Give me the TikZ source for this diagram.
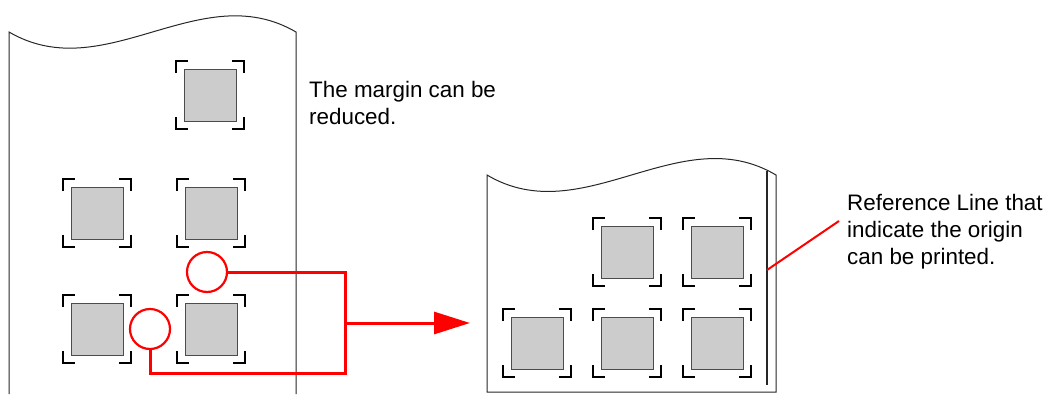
\documentclass[tikz,border=0pt]{standalone}
\usepackage{fontspec}
\setmainfont{Liberation Sans}
\usetikzlibrary{calc,arrows.meta}
\tikzset{
  sheet/.style={draw=black!85,line width=1pt},
  sq/.style={draw=black!70,fill=black!20,line width=1pt,minimum size=52pt,inner sep=0pt,outer sep=0pt},
  brk/.style={draw=black,line width=2.4pt},
  rcirc/.style={circle,draw=red,line width=2.2pt,minimum size=40pt,inner sep=0pt,outer sep=0pt},
  rline/.style={draw=red,line width=3pt},
  lead/.style={draw=red,line width=2pt},
  lbl/.style={inner sep=0pt,align=left,font=\fontsize{22.4}{27}\selectfont},
}
\newcommand\regmarks[1]{%
  \draw[brk] ($(#1.north west)+(-8,4)$) -- ++(0,-12) -- ++(12,0);
  \draw[brk] ($(#1.north east)+(-4,-8)$) -- ++(12,0) -- ++(0,12);
  \draw[brk] ($(#1.south west)+(-8,-4)$) -- ++(0,12) -- ++(12,0);
  \draw[brk] ($(#1.south east)+(-4,8)$) -- ++(12,0) -- ++(0,-12);
}
\begin{document}
\begin{tikzpicture}[x=1pt,y=-1pt]
\useasboundingbox (0,0) rectangle (1049,394);
% left sheet
\draw[sheet] (9,394) -- (9,32) .. controls (105,88) and (200,-24) .. (296,32) -- (296,394);
% right sheet
\draw[sheet] (487,392) -- (487,175) .. controls (583,232) and (680,118) .. (776,175) -- (776,392) -- cycle;
\draw[sheet,line width=1.2pt] (767,171) -- (767,385);
% left sheet marks
\node[sq] (l1) at (210,95) {};
\node[sq] (l2) at (97,213) {};
\node[sq] (l3) at (211,213) {};
\node[sq] (l4) at (97,329) {};
\node[sq] (l5) at (211,329) {};
\foreach \n in {l1,l2,l3,l4,l5} {\regmarks{\n}}
% right sheet marks
\node[sq] (r1) at (627,252) {};
\node[sq] (r2) at (717,252) {};
\node[sq] (r3) at (537,343) {};
\node[sq] (r4) at (627,343) {};
\node[sq] (r5) at (717,343) {};
\foreach \n in {r1,r2,r3,r4,r5} {\regmarks{\n}}
% red circles and connectors
\node[rcirc] (c1) at (207,272) {};
\node[rcirc] (c2) at (150,329) {};
\coordinate (jt) at (345,272);
\coordinate (jb) at (345,373);
\coordinate (ja) at (345,323);
\coordinate (tip) at (470,323);
\draw[rline] (c1.east) -- (jt) -- (jb) -| (c2.south);
\draw[rline,-{Triangle[length=36pt,width=22pt]}] (ja) -- (tip);
% texts
\node[lbl,anchor=base west] (t1) at (309,124) {The margin can be\\reduced.};
\node[lbl,anchor=base west] (t2) at (847,264) {Reference Line that\\indicate the origin\\can be printed.};
\coordinate (rl) at (767,270);
\coordinate (le) at (839,221);
\draw[lead] (rl) -- (le);
\end{tikzpicture}
\end{document}
